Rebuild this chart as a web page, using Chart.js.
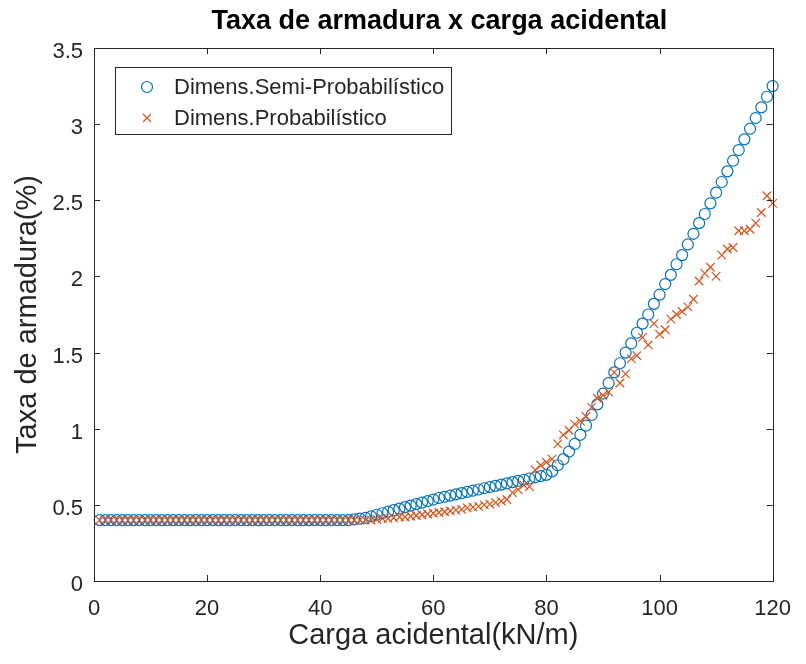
<!DOCTYPE html>
<html>
<head>
<meta charset="utf-8">
<title>Taxa de armadura x carga acidental</title>
<script src="https://cdn.jsdelivr.net/npm/chart.js@4.4.1/dist/chart.umd.min.js"></script>
<style>
  html, body { margin: 0; padding: 0; background: #fff; }
  #wrap { width: 806px; height: 664px; }
</style>
</head>
<body>
<div id="wrap"><canvas id="taxaChart" width="806" height="664"></canvas></div>
<script>
// ==========================================
// DADOS
// ==========================================
const cargas = [
  1, 2, 3, 4, 5, 6, 7, 8, 9, 10, 11, 12, 13, 14, 15, 16, 17, 18, 19, 20,
  21, 22, 23, 24, 25, 26, 27, 28, 29, 30, 31, 32, 33, 34, 35, 36, 37, 38, 39, 40,
  41, 42, 43, 44, 45, 46, 47, 48, 49, 50, 51, 52, 53, 54, 55, 56, 57, 58, 59, 60,
  61, 62, 63, 64, 65, 66, 67, 68, 69, 70, 71, 72, 73, 74, 75, 76, 77, 78, 79, 80,
  81, 82, 83, 84, 85, 86, 87, 88, 89, 90, 91, 92, 93, 94, 95, 96, 97, 98, 99, 100,
  101, 102, 103, 104, 105, 106, 107, 108, 109, 110, 111, 112, 113, 114, 115, 116, 117, 118, 119, 120
];

// Dimens.Semi-Probabilístico
const taxaSemiProb = [
  0.40, 0.40, 0.40, 0.40, 0.40, 0.40, 0.40, 0.40, 0.40, 0.40,
  0.40, 0.40, 0.40, 0.40, 0.40, 0.40, 0.40, 0.40, 0.40, 0.40,
  0.40, 0.40, 0.40, 0.40, 0.40, 0.40, 0.40, 0.40, 0.40, 0.40,
  0.40, 0.40, 0.40, 0.40, 0.40, 0.40, 0.40, 0.40, 0.40, 0.40,
  0.40, 0.40, 0.40, 0.40, 0.40, 0.405, 0.41, 0.415, 0.425, 0.435,
  0.445, 0.455, 0.465, 0.475, 0.485, 0.495, 0.505, 0.515, 0.525, 0.535,
  0.545, 0.553, 0.561, 0.569, 0.577, 0.585, 0.593, 0.601, 0.609, 0.617,
  0.625, 0.633, 0.641, 0.649, 0.657, 0.665, 0.673, 0.681, 0.689, 0.697,
  0.72, 0.76, 0.80, 0.85, 0.90, 0.96, 1.02, 1.09, 1.16, 1.23,
  1.30, 1.37, 1.43, 1.50, 1.56, 1.63, 1.69, 1.75, 1.82, 1.88,
  1.95, 2.01, 2.08, 2.14, 2.21, 2.28, 2.35, 2.41, 2.48, 2.55,
  2.62, 2.69, 2.76, 2.83, 2.90, 2.97, 3.04, 3.11, 3.18, 3.25
];

// Dimens.Probabilístico
const taxaProb = [
  0.40, 0.40, 0.40, 0.40, 0.40, 0.40, 0.40, 0.40, 0.40, 0.40,
  0.40, 0.40, 0.40, 0.40, 0.40, 0.40, 0.40, 0.40, 0.40, 0.40,
  0.40, 0.40, 0.40, 0.40, 0.40, 0.40, 0.40, 0.40, 0.40, 0.40,
  0.40, 0.40, 0.40, 0.40, 0.40, 0.40, 0.40, 0.40, 0.40, 0.40,
  0.40, 0.40, 0.40, 0.40, 0.40, 0.40, 0.40, 0.40, 0.40, 0.405,
  0.41, 0.41, 0.415, 0.42, 0.42, 0.425, 0.43, 0.435, 0.44, 0.445,
  0.45, 0.455, 0.46, 0.465, 0.47, 0.48, 0.485, 0.49, 0.50, 0.505,
  0.515, 0.525, 0.535, 0.58, 0.60, 0.63, 0.62, 0.73, 0.76, 0.78,
  0.80, 0.90, 0.96, 0.99, 1.03, 1.05, 1.08, 1.14, 1.20, 1.22,
  1.24, 1.37, 1.30, 1.36, 1.46, 1.48, 1.60, 1.55, 1.69, 1.62,
  1.65, 1.72, 1.75, 1.77, 1.80, 1.85, 1.97, 2.02, 2.06, 2.00,
  2.14, 2.18, 2.19, 2.30, 2.30, 2.31, 2.35, 2.42, 2.53, 2.48
];

const xTicks = [0, 20, 40, 60, 80, 100, 120];
const yTicks = [0, 0.5, 1, 1.5, 2, 2.5, 3, 3.5];

const tituloGrafico = 'Taxa de armadura x carga acidental';
const tituloX = 'Carga acidental(kN/m)';
const tituloY = 'Taxa de armadura(%)';
const nomeSemiProb = 'Dimens.Semi-Probabilístico';
const nomeProb = 'Dimens.Probabilístico';

// ==========================================
// CORES / FONTES
// ==========================================
const azul = '#0072BD';
const laranja = '#D95319';
const eixoCor = '#262626';
const fonte = "'Liberation Sans', Arial, Helvetica, sans-serif";

Chart.defaults.font.family = fonte;
Chart.defaults.color = eixoCor;

// ==========================================
// PLUGIN: caixa, ticks internos, título e legenda estilo MATLAB
// ==========================================
const molduraMatlab = {
  id: 'molduraMatlab',
  afterDraw(chart) {
    const { ctx, chartArea: a, scales: { x, y } } = chart;
    const tl = 6;
    ctx.save();
    ctx.strokeStyle = eixoCor;
    ctx.lineWidth = 1;

    // ticks para dentro (baixo/cima e esquerda/direita)
    ctx.beginPath();
    xTicks.forEach(v => {
      const px = Math.round(x.getPixelForValue(v)) + 0.5;
      ctx.moveTo(px, a.bottom); ctx.lineTo(px, a.bottom - tl);
      ctx.moveTo(px, a.top); ctx.lineTo(px, a.top + tl);
    });
    yTicks.forEach(v => {
      const py = Math.round(y.getPixelForValue(v)) + 0.5;
      ctx.moveTo(a.left, py); ctx.lineTo(a.left + tl, py);
      ctx.moveTo(a.right, py); ctx.lineTo(a.right - tl, py);
    });
    ctx.stroke();

    // caixa
    ctx.strokeRect(Math.round(a.left) + 0.5, Math.round(a.top) + 0.5,
      Math.round(a.right - a.left), Math.round(a.bottom - a.top));

    // título
    ctx.fillStyle = '#000';
    ctx.font = 'bold 27px ' + fonte;
    ctx.textAlign = 'center';
    ctx.textBaseline = 'middle';
    ctx.fillText(tituloGrafico, (a.left + a.right) / 2 + 6, 22);

    // legenda
    const lx = 115, ly = 67, lw = 336, lh = 67;
    ctx.fillStyle = '#fff';
    ctx.fillRect(lx, ly, lw, lh);
    ctx.strokeRect(lx + 0.5, ly + 0.5, lw, lh);

    ctx.lineWidth = 1.2;
    ctx.strokeStyle = azul;
    ctx.beginPath();
    ctx.arc(147, 87, 5.5, 0, Math.PI * 2);
    ctx.stroke();

    ctx.strokeStyle = laranja;
    ctx.beginPath();
    ctx.moveTo(143, 114); ctx.lineTo(151, 122);
    ctx.moveTo(151, 114); ctx.lineTo(143, 122);
    ctx.stroke();

    ctx.fillStyle = eixoCor;
    ctx.font = '22px ' + fonte;
    ctx.textAlign = 'left';
    ctx.fillText(nomeSemiProb, 174, 88);
    ctx.fillText(nomeProb, 174, 119);
    ctx.restore();
  }
};

// ==========================================
// GRÁFICO
// ==========================================
function initTaxaChart() {
  const canvas = document.getElementById('taxaChart');
  if (!canvas || typeof Chart === 'undefined') return;

  const pontosSemi = cargas.map((c, i) => ({ x: c, y: taxaSemiProb[i] }));
  const pontosProb = cargas.map((c, i) => ({ x: c, y: taxaProb[i] }));

  new Chart(canvas.getContext('2d'), {
    type: 'scatter',
    data: {
      datasets: [
        {
          label: nomeSemiProb,
          data: pontosSemi,
          pointStyle: 'circle',
          pointRadius: 5.5,
          borderColor: azul,
          backgroundColor: 'rgba(0,0,0,0)',
          pointBorderWidth: 1.2,
          order: 2,
          clip: false
        },
        {
          label: nomeProb,
          data: pontosProb,
          pointStyle: 'crossRot',
          pointRadius: 6,
          borderColor: laranja,
          backgroundColor: laranja,
          pointBorderWidth: 1.2,
          order: 1,
          clip: false
        }
      ]
    },
    options: {
      responsive: false,
      animation: false,
      layout: { padding: { top: 48, right: 22, left: 0, bottom: 0 } },
      plugins: {
        legend: { display: false },
        tooltip: { enabled: false },
        title: { display: false }
      },
      scales: {
        x: {
          type: 'linear',
          min: 0,
          max: 120,
          afterBuildTicks: s => { s.ticks = xTicks.map(v => ({ value: v })); },
          afterFit: s => { s.height = 83; },
          grid: { display: false, drawTicks: false },
          border: { display: false },
          ticks: {
            autoSkip: false,
            maxRotation: 0,
            padding: 15,
            color: eixoCor,
            font: { size: 22 },
            callback: v => String(v)
          },
          title: {
            display: true,
            text: tituloX,
            color: eixoCor,
            font: { size: 29 },
            padding: { top: 0, bottom: 11 }
          }
        },
        y: {
          type: 'linear',
          min: 0,
          max: 3.5,
          afterBuildTicks: s => { s.ticks = yTicks.map(v => ({ value: v })); },
          afterFit: s => { s.width = 94; },
          grid: { display: false, drawTicks: false },
          border: { display: false },
          ticks: {
            autoSkip: false,
            padding: 11,
            labelOffset: 4,
            color: eixoCor,
            font: { size: 22 },
            callback: v => String(v)
          },
          title: {
            display: true,
            text: tituloY,
            color: eixoCor,
            font: { size: 29 },
            padding: { top: 11, bottom: 0 }
          }
        }
      }
    },
    plugins: [molduraMatlab]
  });
}

document.addEventListener('DOMContentLoaded', initTaxaChart);
</script>
</body>
</html>
